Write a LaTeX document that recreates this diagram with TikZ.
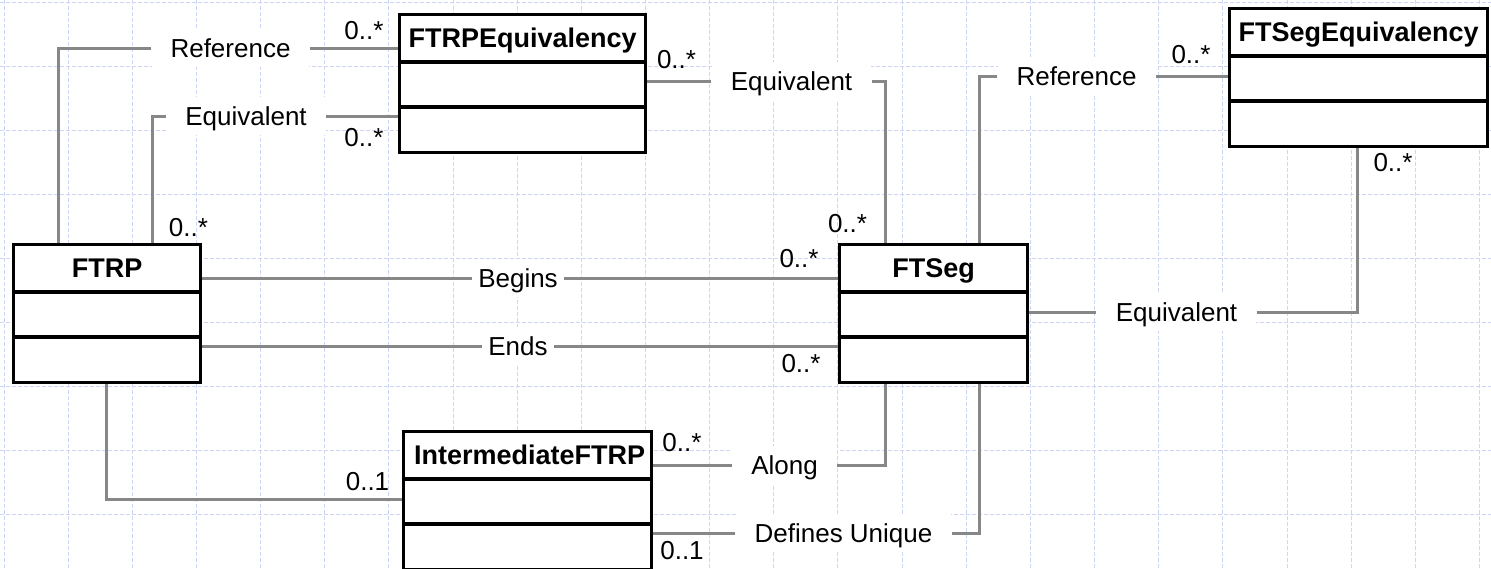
\documentclass[tikz,border=0pt]{standalone}
\usepackage{fontspec}
\setmainfont{Liberation Sans}
\usetikzlibrary{calc}
\definecolor{gridblue}{RGB}{205,214,245}
\definecolor{assocgray}{RGB}{135,135,135}
\newcommand{\umlcompartments}[1]{%
  \draw[divider] ($(#1.north west)+(0,49)$) -- ($(#1.north east)+(0,49)$);
  \draw[divider] ($(#1.north west)+(0,94)$) -- ($(#1.north east)+(0,94)$);}
\begin{document}
\begin{tikzpicture}[x=0.5pt,y=-0.5pt,
  cls/.style={draw=black, line width=1.6pt, fill=white, inner sep=0pt, anchor=north west},
  divider/.style={draw=black, line width=1.6pt},
  hdr/.style={font=\fontsize{13.5}{16}\selectfont\bfseries, inner sep=0pt, text height=9.7pt, text depth=0pt},
  lbl/.style={font=\fontsize{13}{15}\selectfont, fill=white, inner xsep=9.5pt, inner ysep=5pt, text height=9.3pt, text depth=0pt},
  slbl/.style={lbl, inner xsep=3pt},
  mult/.style={font=\fontsize{13}{15}\selectfont, inner sep=0pt, text height=9.3pt, text depth=0pt},
  assoc/.style={draw=assocgray, line width=1.5pt},
  gridline/.style={draw=gridblue, line width=0.5pt, dash pattern=on 2pt off 1pt}]
\useasboundingbox (0,0) rectangle (1491,568);
\fill[white] (0,0) rectangle (1491,568);
% grid
\foreach \i in {0,...,23} \draw[gridline] ({4+64.15*\i},0) -- ({4+64.15*\i},568);
\foreach \j in {0,...,8} \draw[gridline] (0,{2+64*\j}) -- (1491,{2+64*\j});
% classes
\node[cls, minimum width=93.5pt, minimum height=69pt] (ftrp) at (12,243) {};
\node[cls, minimum width=123pt, minimum height=69pt] (ftrpeq) at (398,13) {};
\node[cls, minimum width=94pt, minimum height=69pt] (ftseg) at (838,243) {};
\node[cls, minimum width=129pt, minimum height=69pt] (ftsegeq) at (1228,7) {};
\node[cls, minimum width=124pt, minimum height=69pt] (inter) at (402,430) {};
\umlcompartments{ftrp}
\umlcompartments{ftrpeq}
\umlcompartments{ftseg}
\umlcompartments{ftsegeq}
\umlcompartments{inter}
\node[hdr] (ftrpT) at ($(ftrp.north)+(0,25)$) {FTRP};
\node[hdr] (ftrpeqT) at ($(ftrpeq.north)+(0,24.5)$) {FTRPEquivalency};
\node[hdr] (ftsegT) at ($(ftseg.north)+(0,25)$) {FTSeg};
\node[hdr] (ftsegeqT) at ($(ftsegeq.north)+(0,24.5)$) {FTSegEquivalency};
\node[hdr] (interT) at ($(inter.north)+(2,24.5)$) {IntermediateFTRP};
% association labels
\node[lbl] (refL) at (230.5,48) {Reference};
\node[lbl] (eqL) at (246,116) {Equivalent};
\node[lbl] (eqT) at (791.5,81) {Equivalent};
\node[lbl] (refR) at (1076.5,76) {Reference};
\node[lbl] (eqR) at (1176.5,312) {Equivalent};
\node[slbl] (begL) at (518,278) {Begins};
\node[slbl] (endL) at (518,346) {Ends};
\node[lbl] (alongL) at (784.5,465) {Along};
\node[lbl] (defL) at (843.5,533) {Defines Unique};
% columns and rows for bends
\coordinate (xa) at (58,0);
\coordinate (xb) at (152,0);
\coordinate (xc) at (885,0);
\coordinate (xd) at (979,0);
\coordinate (xe) at (1357,0);
\coordinate (xf) at (106,0);
\coordinate (ya) at (0,499);
% connectors
\draw[assoc] (ftrp.north -| xa) |- (refL.west);
\draw[assoc] (refL.east) -- (refL.east -| ftrpeq.west);
\draw[assoc] (ftrp.north -| xb) |- (eqL.west);
\draw[assoc] (eqL.east) -- (eqL.east -| ftrpeq.west);
\draw[assoc] (eqT.west -| ftrpeq.east) -- (eqT.west);
\draw[assoc] (eqT.east) -| (ftseg.north -| xc);
\draw[assoc] (ftseg.north -| xd) |- (refR.west);
\draw[assoc] (refR.east) -- (refR.east -| ftsegeq.west);
\draw[assoc] (eqR.west -| ftseg.east) -- (eqR.west);
\draw[assoc] (eqR.east) -| (ftsegeq.south -| xe);
\draw[assoc] (begL.west -| ftrp.east) -- (begL.west);
\draw[assoc] (begL.east) -- (begL.east -| ftseg.west);
\draw[assoc] (endL.west -| ftrp.east) -- (endL.west);
\draw[assoc] (endL.east) -- (endL.east -| ftseg.west);
\draw[assoc] (ftrp.south -| xf) |- (ya -| inter.west);
\draw[assoc] (alongL.west -| inter.east) -- (alongL.west);
\draw[assoc] (alongL.east) -| (ftseg.south -| xc);
\draw[assoc] (defL.west -| inter.east) -- (defL.west);
\draw[assoc] (defL.east) -| (ftseg.south -| xd);
% multiplicities
\node[mult] (m1) at (364,30) {0..*};
\node[mult] (m2) at (364,137) {0..*};
\node[mult] (m3) at (188.5,227) {0..*};
\node[mult] (m4) at (676.5,59) {0..*};
\node[mult] (m5) at (847.5,223) {0..*};
\node[mult] (m6) at (1191,54) {0..*};
\node[mult] (m7) at (1393,162) {0..*};
\node[mult] (m8) at (799,258) {0..*};
\node[mult] (m9) at (801,363) {0..*};
\node[mult] (m10) at (367.5,481) {0..1};
\node[mult] (m11) at (682,442) {0..*};
\node[mult] (m12) at (682,550) {0..1};
\end{tikzpicture}
\end{document}
